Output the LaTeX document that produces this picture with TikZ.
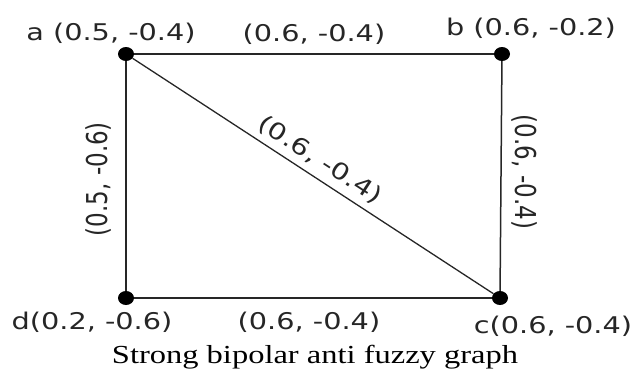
\documentclass[tikz,border=0pt]{standalone}
\usepackage{fontspec}
\usepackage{tikz}
\usetikzlibrary{shapes.geometric, positioning}
\newfontfamily\lblfont[FakeStretch=1.25]{DejaVu Sans}
\newfontfamily\lblfontup{DejaVu Sans}
\newfontfamily\capfont[FakeStretch=1.25]{Liberation Serif}
\tikzset{
  vertex/.style={ellipse, fill=black, inner sep=0pt, minimum width=16pt, minimum height=14pt},
  edge/.style={line width=1.5pt, black!85},
  vlabel/.style={font=\lblfont\fontsize{23}{27}\selectfont, text=black!85, inner sep=0pt},
  uplabel/.style={font=\lblfontup\fontsize{23}{27}\selectfont, text=black!85, inner sep=0pt}
}

\begin{document}
\begin{tikzpicture}[x=1pt, y=1pt]
  \useasboundingbox (0,0) rectangle (633,-376);
  % vertices
  \node (a) [vertex] at (126,-54) {};
  \node (b) [vertex] at (502,-54) {};
  \node (c) [vertex] at (500,-298) {};
  \node (d) [vertex] at (126,-298) {};

  \node (alab) [vlabel] at (111,-33) {a (0.5, -0.4)};
  \node (blab) [vlabel] at (531,-28) {b (0.6, -0.2)};
  \node (clab) [vlabel] at (553,-326) {c(0.6, -0.4)};
  \node (dlab) [vlabel] at (92,-322) {d(0.2, -0.6)};

  % edges
  \draw[edge] (a) -- (b) node[vlabel, midway, above=9pt] {(0.6, -0.4)};
  \draw[edge] (d) -- (c) node[vlabel, midway, below=13pt, xshift=-4pt] {(0.6, -0.4)};
  \draw[edge] (a) -- (d) node[uplabel, midway, xshift=-28pt, yshift=-3pt, xscale=1.25, rotate=90] {(0.5, -0.6)};
  \draw[edge] (b) -- (c) node[uplabel, midway, xshift=24pt, yshift=4pt, xscale=1.25, rotate=-90] {(0.6, -0.4)};
  \draw[edge, line width=1.3pt] (a) -- (c) node[uplabel, midway, xshift=7pt, yshift=16pt, rotate=-33.1, xscale=1.25] {(0.6, -0.4)};

  \node (title) [font=\capfont\fontsize{26}{30}\selectfont, inner sep=0pt] at (315,-357) {Strong bipolar anti fuzzy graph};
\end{tikzpicture}
\end{document}
